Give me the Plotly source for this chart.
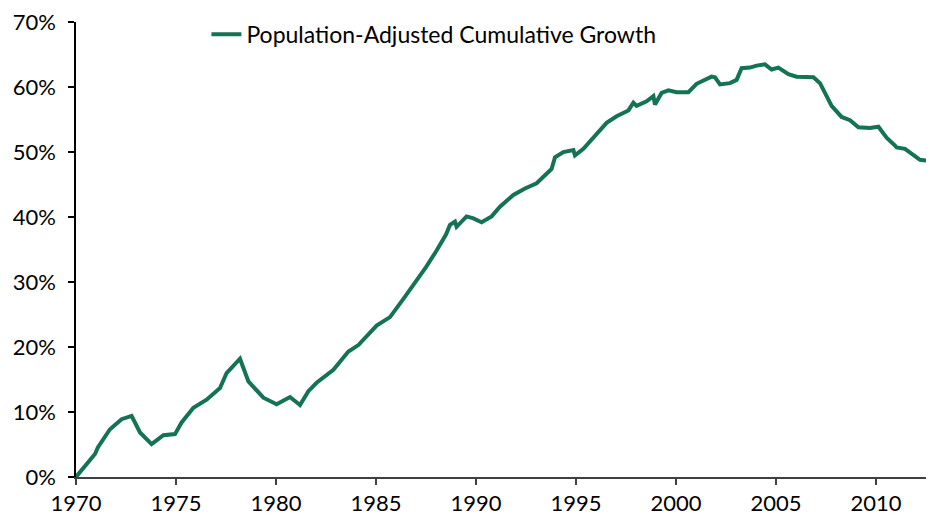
import plotly.graph_objects as go

# values (year, cumulative growth)
years = [1970.0, 1970.95, 1971.1, 1971.7, 1972.28, 1972.78, 1973.2, 1973.78, 1974.37, 1974.95,
         1975.28, 1975.87, 1976.53, 1977.2, 1977.53, 1978.2, 1978.62, 1979.03, 1979.37, 1980.03,
         1980.7, 1981.2, 1981.62, 1982.03, 1982.87, 1983.62, 1984.12, 1985.03, 1985.7, 1986.37,
         1987.0, 1987.5, 1988.0, 1988.5, 1988.7, 1988.95, 1989.03, 1989.53, 1989.87, 1990.28,
         1990.78, 1991.2, 1991.87, 1992.45, 1993.03, 1993.78, 1993.95, 1994.37, 1994.87, 1994.95,
         1995.37, 1995.87, 1996.53, 1997.03, 1997.62, 1997.87, 1998.03, 1998.53, 1998.87, 1998.95,
         1999.28, 1999.62, 2000.03, 2000.62, 2001.03, 2001.78, 2001.95, 2002.2, 2002.7, 2003.03,
         2003.28, 2003.7, 2004.03, 2004.45, 2004.78, 2005.12, 2005.62, 2006.03, 2006.62, 2006.87,
         2007.2, 2007.78, 2008.28, 2008.7, 2009.12, 2009.7, 2010.12, 2010.53, 2010.95, 2011.03,
         2011.45, 2012.2, 2012.9]
growth = [0.0, 3.55, 4.6, 7.35, 8.9, 9.4, 6.85, 5.07, 6.44, 6.6,
          8.4, 10.65, 11.9, 13.7, 16.0, 18.2, 14.7, 13.4, 12.2, 11.2,
          12.3, 11.06, 13.2, 14.5, 16.5, 19.3, 20.3, 23.3, 24.6, 27.4,
          30.0, 32.3, 34.7, 37.3, 38.8, 39.3, 38.5, 40.1, 39.8, 39.2,
          40.1, 41.6, 43.4, 44.4, 45.2, 47.4, 49.2, 50.0, 50.3, 49.5,
          50.5, 52.2, 54.5, 55.5, 56.4, 57.6, 57.1, 57.8, 58.6, 57.3,
          59.1, 59.5, 59.2, 59.2, 60.5, 61.6, 61.5, 60.4, 60.6, 61.1,
          62.9, 63.0, 63.3, 63.5, 62.7, 63.0, 62.0, 61.6, 61.6, 61.5,
          60.6, 57.1, 55.4, 54.9, 53.8, 53.7, 53.9, 52.2, 51.0, 50.7,
          50.5, 48.8, 48.6]
growth = [g / 100 for g in growth]

series_name = 'Population-Adjusted Cumulative Growth'
x_ticks = [1970, 1975, 1980, 1985, 1990, 1995, 2000, 2005, 2010]
y_ticks = [0, 0.1, 0.2, 0.3, 0.4, 0.5, 0.6, 0.7]
y_labels = ['0%', '10%', '20%', '30%', '40%', '50%', '60%', '70%']

fig = go.Figure()
fig.add_trace(go.Scatter(x=years, y=growth, mode='lines', name=series_name,
                         line=dict(color='#137353', width=4)))

# page body adds an 8px offset, so the figure is sized to what stays visible
fig.update_layout(
    width=926, height=508,
    margin=dict(l=68, r=0, t=12, b=36),
    paper_bgcolor='white', plot_bgcolor='white',
    font=dict(family='Lato, sans-serif', size=22, color='black'),
    showlegend=True,
    legend=dict(x=0.152, y=1.02, xanchor='left', yanchor='top',
                bgcolor='rgba(0,0,0,0)', font=dict(size=23)),
)
fig.update_xaxes(range=[1970, 2012.9], tickvals=x_ticks, showgrid=False, zeroline=False,
                 showline=True, linecolor='#404040', linewidth=2,
                 ticks='outside', ticklen=6, tickcolor='#404040', tickwidth=1.5)
fig.update_yaxes(range=[0, 0.7001], tickvals=y_ticks, ticktext=y_labels,
                 showgrid=False, zeroline=False, ticklabeloverflow='allow',
                 showline=True, linecolor='black', linewidth=1.5, ticklabelstandoff=8,
                 ticks='outside', ticklen=6, tickcolor='black', tickwidth=1.5)

fig.write_html("out.html")
